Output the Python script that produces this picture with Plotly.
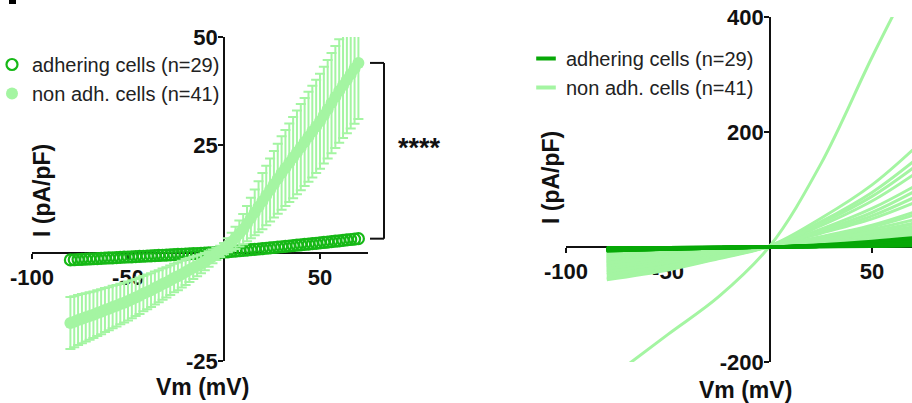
import plotly.graph_objects as go

# ---------------- data ----------------
# Left panel: mean I-V (pA/pF) with SEM, voltage ramp in mV
V_LEFT = list(range(-80, 71, 2))
NONADH_MEAN = [-16.2, -15.9, -15.5, -15.2, -14.9, -14.6, -14.3, -13.9, -13.6, -13.2,
               -12.9, -12.5, -12.2, -11.8, -11.5, -11.1, -10.7, -10.3, -9.9, -9.4,
               -9.0, -8.6, -8.1, -7.7, -7.2, -6.8, -6.3, -5.8, -5.4, -4.9,
               -4.4, -3.9, -3.4, -3.0, -2.5, -2.0, -1.4, -0.8, -0.2, 0.4,
               1.0, 1.8, 2.6, 3.5, 4.5, 5.5, 6.8, 8.1, 9.4, 10.7,
               12.0, 13.3, 14.6, 15.9, 17.2, 18.5, 19.7, 20.9, 22.1, 23.3,
               24.5, 25.7, 26.9, 28.1, 29.3, 30.5, 31.9, 33.3, 34.7, 36.1,
               37.5, 38.8, 40.1, 41.4, 42.7, 44.0]
NONADH_SEM = [6.0, 5.9, 5.8, 5.7, 5.6, 5.5, 5.4, 5.3, 5.2, 5.1,
              5.0, 4.9, 4.8, 4.7, 4.6, 4.5, 4.4, 4.3, 4.2, 4.1,
              4.0, 3.9, 3.8, 3.7, 3.6, 3.5, 3.4, 3.3, 3.2, 3.1,
              3.0, 2.8, 2.6, 2.4, 2.2, 2.0, 1.8, 1.6, 1.4, 1.3,
              1.3, 1.6, 2.1, 2.6, 3.0, 3.5, 4.1, 4.7, 5.3, 5.9,
              6.5, 6.9, 7.3, 7.7, 8.1, 8.5, 8.8, 9.1, 9.4, 9.7,
              10.0, 10.2, 10.4, 10.6, 10.8, 11.0, 11.2, 11.4, 11.6, 11.8,
              12.0, 12.2, 12.4, 12.6, 12.8, 13.0]
ADH_MEAN = [-1.60, -1.56, -1.51, -1.47, -1.42, -1.38, -1.33, -1.29, -1.24, -1.20,
            -1.15, -1.11, -1.06, -1.02, -0.97, -0.93, -0.88, -0.84, -0.79, -0.75,
            -0.70, -0.66, -0.61, -0.57, -0.52, -0.48, -0.43, -0.39, -0.34, -0.30,
            -0.25, -0.21, -0.16, -0.12, -0.07, -0.03, 0.02, 0.06, 0.11, 0.15,
            0.20, 0.28, 0.36, 0.44, 0.52, 0.60, 0.68, 0.77, 0.85, 0.93,
            1.02, 1.10, 1.19, 1.27, 1.36, 1.45, 1.53, 1.62, 1.71, 1.80,
            1.89, 1.98, 2.07, 2.16, 2.25, 2.35, 2.44, 2.54, 2.63, 2.73,
            2.82, 2.92, 3.02, 3.12, 3.22, 3.32]

# Right panel: individual cells, values at these voltages (mV)
V_RIGHT = [-80, -50, -25, 0, 25, 50, 70]
NONADH_CELLS = [
    [-232, -152, -86, 2, 145, 330, 470],
    [-57, -40, -20, 2, 50, 108, 169],
    [-52, -36, -18, 2, 44, 95, 148],
    [-47, -31, -15, 1, 37, 80, 125],
    [-44, -28, -14, 1, 31, 67, 104],
    [-41, -26, -13, 1, 24, 49, 76],
    [-39, -24, -12, 1, 15, 31, 47],
    [-36, -22, -11, 1, 11, 23, 35],
    [-34, -21, -10, 1, 8, 16, 24],
    [-32, -20, -10, 1, 13, 27, 41],
    [-30, -19, -9, 1, 10, 20, 31],
    [-29, -18, -9, 1, 9, 18, 28],
    [-27, -17, -8, 0, 6, 13, 20],
    [-26, -16, -8, 0, 7, 15, 22],
    [-25, -15, -7, 0, 5, 11, 17],
    [-24, -15, -7, 0, 6, 12, 19],
    [-23, -14, -7, 0, 4, 9, 14],
    [-22, -13, -6, 0, 5, 10, 16],
    [-21, -13, -6, 0, 4, 8, 12],
    [-20, -12, -6, 0, 3, 7, 11],
    [-19, -12, -6, 0, 4, 8, 13],
    [-18, -11, -5, 0, 3, 6, 10],
    [-17, -10, -5, 0, 3, 6, 9],
    [-16, -10, -5, 0, 2, 5, 8],
    [-15, -9, -4, 0, 3, 6, 9],
    [-14, -9, -4, 0, 2, 4, 7],
    [-13, -8, -4, 0, 2, 4, 6],
    [-12, -7, -4, 0, 2, 5, 7],
    [-11, -7, -3, 0, 2, 4, 6],
    [-10, -6, -3, 0, 1, 3, 5],
    [-9, -6, -3, 0, 2, 4, 6],
    [-8, -5, -2, 0, 1, 3, 5],
    [-7, -4, -2, 0, 1, 2, 4],
    [-6, -4, -2, 0, 1, 3, 4],
    [-5, -3, -2, 0, 1, 2, 3],
    [-48, -33, -16, 1, 25, 54, 85],
    [-43, -27, -13, 1, 28, 60, 95],
    [-37, -23, -11, 1, 18, 38, 60],
    [-33, -20, -10, 1, 17, 35, 55],
    [-55, -38, -19, 2, 41, 88, 137],
    [-28, -17, -8, 0, 12, 26, 40],
]
ADH_CELLS = [
    [-6, -4, -2, 0, 3, 8, 13], [-5, -3, -2, 0, 2, 6, 10], [-4, -3, -1, 0, 2, 5, 8],
    [-7, -4, -2, 0, 4, 10, 16], [-3, -2, -1, 0, 1, 3, 5], [-5, -3, -1, 0, 2, 5, 9],
    [-4, -2, -1, 0, 1, 4, 6], [-6, -4, -2, 0, 3, 7, 12], [-2, -1, -1, 0, 1, 2, 4],
    [-3, -2, -1, 0, 1, 3, 6], [-5, -3, -2, 0, 2, 6, 11], [-4, -2, -1, 0, 2, 4, 7],
    [-2, -1, 0, 0, 1, 2, 3], [-6, -3, -2, 0, 3, 7, 14], [-3, -2, -1, 0, 1, 3, 5],
    [-4, -3, -1, 0, 2, 5, 9], [-5, -3, -2, 0, 2, 5, 8], [-1, -1, 0, 0, 0, 1, 2],
    [-3, -2, -1, 0, 1, 2, 4], [-6, -4, -2, 0, 2, 6, 10], [-4, -2, -1, 0, 1, 3, 6],
    [-2, -1, -1, 0, 1, 2, 3], [-5, -3, -1, 0, 2, 4, 7], [-3, -2, -1, 0, 1, 4, 7],
    [-7, -4, -2, 0, 3, 8, 15], [-4, -3, -1, 0, 2, 5, 8], [-2, -1, 0, 0, 1, 1, 2],
    [-5, -3, -2, 0, 2, 5, 10], [-3, -2, -1, 0, 1, 3, 6],
]

NAME_ADH = "adhering cells (n=29)"
NAME_NON = "non adh. cells (n=41)"
X_TICKS = [-100, -50, 50]
X_TICK_TEXT = ["-100", "-50", "50"]
Y_TICKS_LEFT = [-25, 25, 50]
Y_TICK_TEXT_LEFT = ["-25", "25", "50"]
Y_TICKS_RIGHT = [-200, 200, 400]
Y_TICK_TEXT_RIGHT = ["-200", "200", "400"]
STARS = "****"

# ---------------- style ----------------
DARK = "#16b816"
DARK_LINE = "#07a807"
LIGHT = "#a4f5a2"
FONT = "Liberation Sans, Arial, sans-serif"
INK = "#111111"
W, H = 912, 403

fig = go.Figure()

# Left panel
fig.add_trace(go.Scatter(
    x=V_LEFT, y=ADH_MEAN, mode="markers", name=NAME_ADH, legend="legend",
    marker=dict(symbol="circle-open", size=11, color=DARK, line=dict(width=2.2)),
    xaxis="x", yaxis="y"))
fig.add_trace(go.Scatter(
    x=V_LEFT, y=NONADH_MEAN, mode="markers", name=NAME_NON, legend="legend",
    marker=dict(symbol="circle", size=12, color=LIGHT),
    error_y=dict(type="data", array=NONADH_SEM, color=LIGHT, thickness=2, width=5),
    xaxis="x", yaxis="y"))

# Right panel
for row in NONADH_CELLS:
    fig.add_trace(go.Scatter(x=V_RIGHT, y=row, mode="lines", showlegend=False,
                             line=dict(color=LIGHT, width=3, shape="spline"),
                             xaxis="x2", yaxis="y2", hoverinfo="skip"))
for row in ADH_CELLS:
    fig.add_trace(go.Scatter(x=V_RIGHT, y=row, mode="lines", showlegend=False,
                             line=dict(color=DARK_LINE, width=3, shape="spline"),
                             xaxis="x2", yaxis="y2", hoverinfo="skip"))
# legend entries for right panel
for name, col in [(NAME_ADH, DARK_LINE), (NAME_NON, LIGHT)]:
    fig.add_trace(go.Scatter(x=[None], y=[None], mode="markers", name=name,
                             legend="legend2",
                             marker=dict(symbol="line-ew", size=14,
                                         line=dict(width=4, color=col)),
                             xaxis="x2", yaxis="y2"))

axis_common = dict(showline=True, linecolor=INK, linewidth=1.6, ticks="outside",
                   ticklen=5, tickwidth=1.6, tickcolor=INK, showgrid=False,
                   zeroline=False, anchor="free", layer="below traces",
                   tickfont=dict(family=FONT, size=22, color=INK, weight="bold"))


def px_x(p):
    return p / W


def px_y(p):
    return (H - p) / H


fig.update_layout(
    width=W, height=H, margin=dict(l=0, r=0, t=0, b=0, autoexpand=False),
    paper_bgcolor="white", plot_bgcolor="white",
    xaxis=dict(domain=[px_x(32), px_x(368)], range=[-100, 75], tickvals=X_TICKS,
               ticktext=X_TICK_TEXT, position=px_y(253), **axis_common),
    yaxis=dict(domain=[px_y(361), px_y(37)], range=[-25, 50], tickvals=Y_TICKS_LEFT,
               ticktext=Y_TICK_TEXT_LEFT, position=px_x(224), ticklabelstandoff=-4,
               **axis_common),
    xaxis2=dict(domain=[px_x(566), 1.0], range=[-100, 69.6], tickvals=X_TICKS,
                ticktext=X_TICK_TEXT, position=px_y(247), **axis_common),
    yaxis2=dict(domain=[px_y(362), px_y(17)], range=[-200, 400], tickvals=Y_TICKS_RIGHT,
                ticktext=Y_TICK_TEXT_RIGHT, position=px_x(770), ticklabelstandoff=-4,
                **axis_common),
    legend=dict(x=px_x(-8), y=px_y(45), xanchor="left", yanchor="top",
                bgcolor="rgba(0,0,0,0)", font=dict(family=FONT, size=20, color="#222"),
                itemwidth=30),
    legend2=dict(x=px_x(526), y=px_y(39), xanchor="left", yanchor="top",
                 bgcolor="rgba(0,0,0,0)", font=dict(family=FONT, size=20, color="#222"),
                 itemwidth=30),
    showlegend=True,
)

title_font = dict(family=FONT, size=23, color=INK, weight="bold")
annots = [
    dict(text="I (pA/pF)", x=px_x(42), y=px_y(191), textangle=-90),
    dict(text="Vm (mV)", x=px_x(202), y=px_y(387)),
    dict(text="I (pA/pF)", x=px_x(551), y=px_y(178), textangle=-90),
    dict(text="Vm (mV)", x=px_x(745), y=px_y(390)),
]
for a in annots:
    fig.add_annotation(xref="paper", yref="paper", showarrow=False,
                       xanchor="center", yanchor="middle", font=title_font, **a)

fig.add_annotation(text=STARS, xref="paper", yref="paper", x=px_x(419), y=px_y(148),
                   showarrow=False, xanchor="center", yanchor="middle",
                   font=dict(family=FONT, size=27, color=INK, weight="bold"))

# significance bracket tied to the end values of the two means
top_v, bot_v = NONADH_MEAN[-1], ADH_MEAN[-1]
bx0, bx1 = px_x(370), px_x(384)
for shp in [dict(x0=bx0, x1=bx1, y0=top_v, y1=top_v),
            dict(x0=bx1, x1=bx1, y0=top_v, y1=bot_v),
            dict(x0=bx0, x1=bx1, y0=bot_v, y1=bot_v)]:
    fig.add_shape(type="line", xref="paper", yref="y", line=dict(color=INK, width=2), **shp)

# cut-off panel letter fragment at top-left
fig.add_shape(type="rect", xref="paper", yref="paper", x0=px_x(9), x1=px_x(16),
              y0=px_y(4), y1=1.0, fillcolor="black", line=dict(width=0))

fig.write_html("out.html", config={"displayModeBar": False},
               post_script="document.body.style.margin='0';document.body.style.overflow='hidden';")
